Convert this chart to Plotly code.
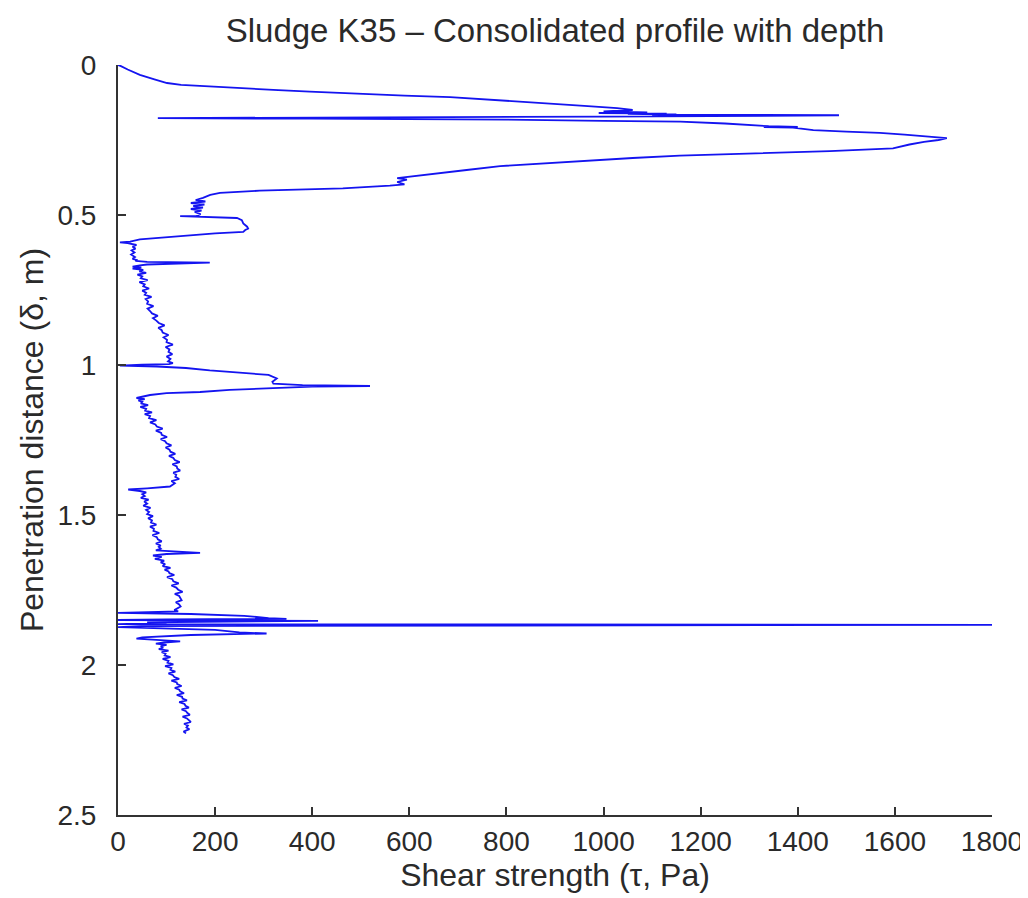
import plotly.graph_objects as go

# Trace, split into depth bands.
# depth in m (penetration distance), shear in Pa (shear strength)
top_depth = [
    0.000, 0.003, 0.015, 0.033, 0.048, 0.060, 0.066, 0.072, 0.078, 0.084, 0.089, 0.094,
    0.098, 0.102, 0.107, 0.117, 0.128, 0.136, 0.144, 0.150, 0.155, 0.158, 0.160, 0.162,
    0.163, 0.165, 0.166, 0.167, 0.168, 0.172, 0.176, 0.177, 0.179, 0.182, 0.186, 0.189,
    0.195, 0.200, 0.204, 0.206, 0.207, 0.209, 0.213, 0.217, 0.222, 0.226, 0.232, 0.239,
    0.244, 0.250, 0.256, 0.265, 0.278, 0.287, 0.294, 0.302, 0.310, 0.317, 0.327, 0.337,
    0.350, 0.362, 0.372, 0.377, 0.382, 0.390, 0.398, 0.402, 0.411, 0.419, 0.426, 0.433,
    0.443, 0.450, 0.455, 0.460, 0.465, 0.470, 0.475, 0.480, 0.485, 0.490, 0.497, 0.503,
    0.504, 0.510, 0.517, 0.528, 0.539, 0.545, 0.550, 0.556, 0.561, 0.567, 0.572, 0.577,
    0.581, 0.589, 0.591,
]
top_shear = [
    0, 5, 20, 45, 75, 101, 130, 190, 258, 330, 395, 460,
    519, 590, 684, 787, 890, 960, 1028, 1060, 1000, 1090, 990, 1130,
    1050, 1150, 1100, 1483, 1483, 1000, 395, 82, 395, 800, 1000, 1158,
    1250, 1300, 1340, 1400, 1330, 1390, 1420, 1432, 1500, 1569, 1620, 1672,
    1707, 1690, 1660, 1630, 1596, 1466, 1295, 1157, 1060, 993, 890, 787,
    718, 650, 601, 575, 595, 575, 590, 560, 463, 292, 210, 190,
    175, 160, 180, 150, 178, 155, 175, 150, 172, 158, 170, 162,
    128, 245, 255, 258, 266, 268, 262, 258, 200, 155, 110, 72,
    45, 25, 4, 20,
]

mid1_depth = [
    0.594, 0.600, 0.606, 0.612, 0.618, 0.625, 0.632, 0.640, 0.646, 0.650, 0.653, 0.656,
    0.659, 0.662, 0.665, 0.668, 0.672, 0.675, 0.679, 0.683, 0.688, 0.693, 0.699, 0.705,
    0.711, 0.717, 0.724, 0.731, 0.738, 0.745, 0.752, 0.759, 0.766, 0.773, 0.780, 0.788,
    0.796, 0.804, 0.812, 0.820, 0.828, 0.836, 0.844, 0.852, 0.860, 0.868, 0.876, 0.884,
    0.892, 0.900, 0.908, 0.916, 0.924, 0.932, 0.940, 0.948, 0.956, 0.964, 0.972, 0.980,
    0.988, 0.994, 0.997, 0.999, 1.002, 1.005, 1.010, 1.018, 1.026, 1.033, 1.045, 1.056,
    1.062, 1.067, 1.070, 1.072, 1.078, 1.083, 1.090, 1.094, 1.100,
]
mid1_shear = [
    38, 30, 36, 28, 34, 27, 35, 30, 38, 36, 60, 189,
    110, 60, 45, 30, 48, 30, 52, 44, 58, 40, 50, 47,
    61, 44, 55, 52, 64, 50, 58, 55, 69, 57, 62, 60,
    73, 61, 66, 70, 82, 72, 79, 84, 96, 83, 90, 92,
    104, 94, 101, 100, 113, 98, 106, 104, 112, 100, 108, 103,
    113, 105, 50, 4, 80, 140, 189, 260, 310, 327, 318, 320,
    380, 519, 400, 306, 230, 169, 100, 66, 48,
]

mid2_depth = [
    1.106, 1.110, 1.114, 1.118, 1.123, 1.128, 1.134, 1.140, 1.146, 1.152, 1.158, 1.164,
    1.170, 1.177, 1.184, 1.191, 1.198, 1.205, 1.212, 1.219, 1.226, 1.233, 1.240, 1.247,
    1.254, 1.261, 1.268, 1.275, 1.282, 1.289, 1.296, 1.303, 1.310, 1.317, 1.324, 1.331,
    1.338, 1.345, 1.352, 1.359, 1.366, 1.373, 1.380, 1.387, 1.394, 1.405, 1.411,
]
mid2_shear = [
    38, 55, 42, 50, 47, 62, 46, 58, 56, 70, 55, 66,
    64, 79, 66, 77, 80, 92, 78, 89, 90, 101, 88, 97,
    100, 110, 98, 106, 108, 118, 105, 114, 117, 127, 112, 121,
    122, 128, 114, 120, 118, 126, 110, 117, 107, 60, 21,
]

mid3_depth = [
    1.415, 1.420, 1.425, 1.431, 1.437, 1.443, 1.449, 1.455, 1.462, 1.469, 1.476, 1.483,
    1.490, 1.497, 1.504, 1.511, 1.518, 1.525, 1.532, 1.539, 1.546, 1.553, 1.560, 1.567,
    1.574, 1.581, 1.588, 1.595, 1.602, 1.606, 1.612, 1.618, 1.622, 1.626, 1.630, 1.635,
    1.640, 1.646, 1.652, 1.658, 1.664, 1.670, 1.676, 1.682, 1.688, 1.694, 1.700, 1.707,
    1.714, 1.721, 1.728, 1.735, 1.742, 1.749, 1.756, 1.763, 1.770, 1.777, 1.784, 1.791,
    1.798, 1.805, 1.812, 1.817,
]
mid3_shear = [
    45, 58, 50, 55, 47, 63, 54, 60, 52, 67, 58, 64,
    60, 72, 62, 70, 68, 79, 66, 74, 73, 85, 71, 80,
    82, 90, 78, 88, 84, 88, 78, 120, 169, 100, 72, 90,
    76, 95, 88, 97, 92, 108, 96, 104, 106, 116, 101, 112,
    114, 125, 110, 120, 124, 133, 117, 126, 128, 131, 119, 126,
    129, 122, 116, 124,
]

spikes_depth = [
    1.821, 1.823, 1.826, 1.830, 1.836, 1.844, 1.846, 1.848, 1.850, 1.853, 1.856, 1.858,
    1.860, 1.862, 1.864, 1.866, 1.868, 1.870, 1.874, 1.878, 1.883, 1.891, 1.895, 1.900,
    1.905, 1.908, 1.912,
]
spikes_shear = [
    60, 0, 150, 260, 310, 347, 100, 0, 412, 150, 60, 100,
    40, 0, 1800, 300, 60, 0, 120, 200, 250, 306, 150, 80,
    50, 38, 90,
]

bottom_depth = [
    1.917, 1.921, 1.925, 1.929, 1.933, 1.937, 1.942, 1.947, 1.952, 1.957, 1.962, 1.968,
    1.974, 1.980, 1.986, 1.992, 1.998, 2.004, 2.010, 2.016, 2.022, 2.028, 2.034, 2.040,
    2.046, 2.052, 2.058, 2.064, 2.070, 2.076, 2.082, 2.088, 2.094, 2.100, 2.106, 2.112,
    2.118, 2.124, 2.130, 2.136, 2.142, 2.148, 2.154, 2.160, 2.166, 2.172, 2.178, 2.184,
    2.190, 2.196, 2.202, 2.208, 2.214, 2.222, 2.228,
]
bottom_shear = [
    128, 95, 78, 100, 88, 93, 84, 104, 90, 98, 96, 108,
    92, 104, 102, 114, 97, 110, 108, 118, 104, 113, 116, 126,
    110, 121, 122, 131, 117, 126, 128, 136, 121, 132, 133, 142,
    126, 137, 139, 146, 131, 140, 143, 148, 133, 142, 145, 150,
    136, 144, 141, 147, 135, 140, 93,
]

x_ticks = [0, 200, 400, 600, 800, 1000, 1200, 1400, 1600, 1800]
y_ticks = [0, 0.5, 1, 1.5, 2, 2.5]
y_tick_text = ["0", "0.5", "1", "1.5", "2", "2.5"]

depth = top_depth + mid1_depth + mid2_depth + mid3_depth + spikes_depth + bottom_depth
shear = top_shear + mid1_shear + mid2_shear + mid3_shear + spikes_shear + bottom_shear

FONT = "Liberation Sans, Arial, sans-serif"
TXT = "#2a2a2a"

fig = go.Figure()
fig.add_trace(go.Scatter(
    x=shear, y=depth, mode="lines",
    line=dict(color="#1414f0", width=1.8),
    showlegend=False, hoverinfo="skip",
))

# the page body adds an 8px margin, so the figure margins are offset by 8px
fig.update_layout(
    width=1028, height=898,
    margin=dict(l=110, r=44, t=57, b=91),
    paper_bgcolor="white", plot_bgcolor="white",
    font=dict(family=FONT, size=28, color=TXT),
    title=dict(
        text="Sludge K35 \u2013 Consolidated profile with depth",
        x=(555 - 8) / 1028, xanchor="center", y=1 - 22 / 898, yanchor="middle",
        yref="container",
        font=dict(family=FONT, size=33, color=TXT),
    ),
)
fig.update_xaxes(
    range=[0, 1800], tickvals=x_ticks, ticks="inside", ticklen=8, tickwidth=1.5,
    tickcolor="#333", showline=True, linecolor="#333", linewidth=2,
    showgrid=False, zeroline=False, mirror=False,
    tickfont=dict(family=FONT, size=28, color=TXT),
    title=dict(text="Shear strength (\u03c4, Pa)", standoff=2,
               font=dict(family=FONT, size=32, color=TXT)),
)
fig.update_yaxes(
    range=[2.5, 0], tickvals=y_ticks, ticktext=y_tick_text, ticks="inside",
    ticklen=8, tickwidth=1.5, tickcolor="#333", showline=True, linecolor="#333",
    linewidth=2, showgrid=False, zeroline=False, mirror=False,
    ticklabelstandoff=14,
    tickfont=dict(family=FONT, size=28, color=TXT),
    title=dict(text="Penetration distance (\u03b4, m)", standoff=4,
               font=dict(family=FONT, size=32, color=TXT)),
)

fig.write_html("out.html")
